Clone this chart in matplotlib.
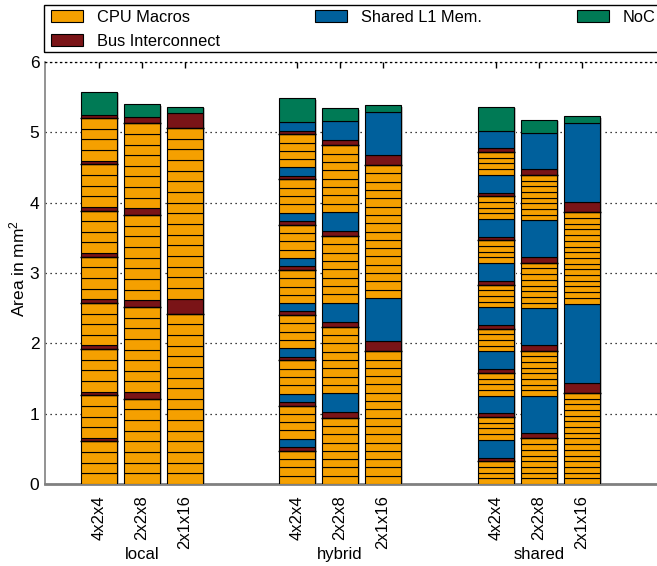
import matplotlib
matplotlib.use('Agg')
import matplotlib.pyplot as plt
import numpy as np

plt.rcParams['font.family'] = ['Liberation Sans', 'DejaVu Sans']
plt.rcParams['mathtext.default'] = 'regular'

# --- data (areas in mm^2) ---
groups = ['local', 'hybrid', 'shared']
configs = ['4x2x4', '2x2x8', '2x1x16']
n_clusters = [8, 4, 2]
cpus_per_cluster = [4, 8, 16]
cpu_area = [0.1514, 0.118, 0.081]            # area of one CPU macro, per group
bus_area = [[0.051, 0.095, 0.215],           # bus interconnect per cluster
            [0.052, 0.076, 0.146],
            [0.052, 0.080, 0.146]]
l1_area = [[0.0, 0.0, 0.0],                  # shared L1 memory per cluster
           [0.119, 0.270, 0.612],
           [0.252, 0.521, 1.124]]
noc_area = [[0.320, 0.175, 0.085],           # NoC, one per bar
            [0.341, 0.180, 0.095],
            [0.337, 0.181, 0.095]]

col_cpu = '#F5A000'
col_l1 = '#00609C'
col_noc = '#007A55'
col_bus = '#7A1417'

group_start = [0.0, 4.605, 9.233]
bar_w = 0.84

fig = plt.figure(figsize=(6.57, 5.66), dpi=100)
ax = fig.add_axes([45/657, 1-484/566, (657-45)/657, (484-62)/566])

xs = []
for gi, g in enumerate(groups):
    for ci, c in enumerate(configs):
        x = group_start[gi] + ci
        xs.append(x)
        bottom = 0.0
        kw = dict(width=bar_w, edgecolor='k', linewidth=0.8, zorder=3)
        for k in range(n_clusters[ci]):
            for j in range(cpus_per_cluster[ci]):
                ax.bar(x, cpu_area[gi], bottom=bottom, color=col_cpu, **kw)
                bottom += cpu_area[gi]
            # bus boundary line sticks out a little past the bar
            ax.hlines(bottom, x - bar_w/2 - 0.03, x + bar_w/2 + 0.03,
                      color='k', linewidth=1.0, zorder=4)
            ax.bar(x, bus_area[gi][ci], bottom=bottom, color=col_bus, **kw)
            bottom += bus_area[gi][ci]
            if l1_area[gi][ci] > 0:
                ax.bar(x, l1_area[gi][ci], bottom=bottom, color=col_l1, **kw)
                bottom += l1_area[gi][ci]
        ax.bar(x, noc_area[gi][ci], bottom=bottom, color=col_noc, **kw)
        bottom += noc_area[gi][ci]
        # light shadow on the right side
        ax.bar(x + 0.045, bottom, bottom=-0.02, width=bar_w, color='#c4c4c4',
               linewidth=0, zorder=2)

ax.set_xlim(-1.256, 12.98)
ax.set_ylim(0, 6)
ax.set_yticks(np.arange(0, 7, 1))
ax.yaxis.grid(True, linestyle=(0, (1, 3)), color='k', linewidth=0.9)
ax.set_axisbelow(True)

ax.set_xticks(xs)
ax.set_xticklabels(configs * 3, rotation=90, fontsize=12, va='top')
ax.xaxis.set_ticks_position('top')
ax.tick_params(axis='x', which='both', direction='in', length=4, width=1,
               bottom=False, top=True, labelbottom=True, labeltop=False, pad=8)
ax.tick_params(axis='y', length=0, pad=4, labelsize=12.5)

ax.spines['right'].set_visible(False)
ax.spines['top'].set_linestyle((0, (1, 3)))
ax.spines['top'].set_linewidth(0.9)
ax.spines['left'].set_color('#808080')
ax.spines['left'].set_linewidth(1.2)
ax.spines['bottom'].set_color('#808080')
ax.spines['bottom'].set_linestyle((0, (2, 1)))
ax.spines['bottom'].set_linewidth(2)

ax.set_ylabel('Area in mm$^2$', fontsize=12.5)
ax.yaxis.set_label_coords(-0.028, 0.51)

for gi, g in enumerate(groups):
    ax.text(group_start[gi] + 1, -1.0, g, ha='center', va='center',
            fontsize=12, transform=ax.transData)

handles = [plt.Rectangle((0, 0), 1, 1, facecolor=c, edgecolor='k', linewidth=0.8)
           for c in [col_cpu, col_bus, col_l1, col_noc]]
labels = ['CPU Macros', 'Bus Interconnect', 'Shared L1 Mem.', 'NoC']
leg = fig.legend(handles, labels, loc='upper left', ncol=3,
                 bbox_to_anchor=(51/657, 1-10/566),
                 bbox_transform=fig.transFigure, fontsize=11.8, frameon=False,
                 borderaxespad=0, borderpad=0, handlelength=1.95,
                 handleheight=0.75, handletextpad=0.85, labelspacing=0.55,
                 columnspacing=5.8)

# legend frame runs off the right edge of the figure
frame = plt.Rectangle((44/657, 1-52/566), 640/657, 47/566, transform=fig.transFigure,
                      facecolor='none', edgecolor='k', linewidth=1.0)
fig.patches.append(frame)

fig.savefig('out.png', dpi=100)
